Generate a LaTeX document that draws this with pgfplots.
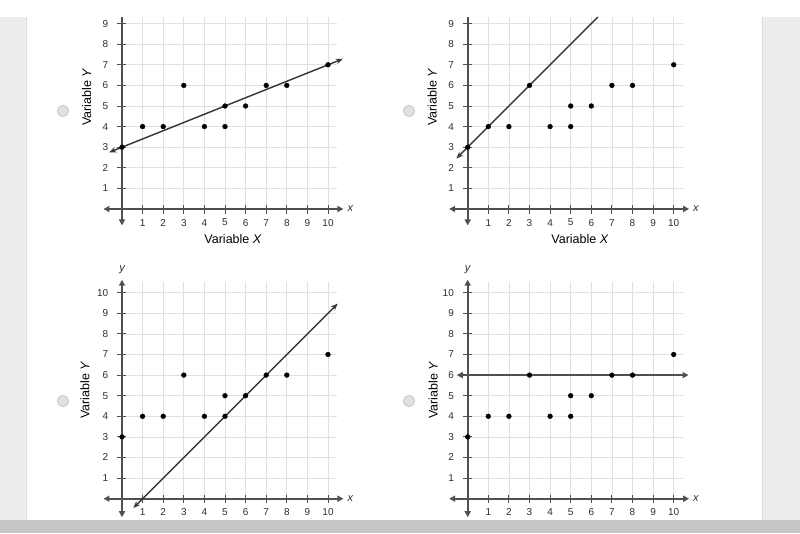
\documentclass[border=0pt]{standalone}
\usepackage{pgfplots}
\pgfplotsset{compat=1.18}
\usepackage{pgfplotstable}
\usepackage{fontspec}
\setmainfont{Liberation Sans}
\usetikzlibrary{arrows.meta}

\definecolor{gridc}{HTML}{E0E0E0}
\definecolor{axc}{HTML}{505050}
\definecolor{tickc}{HTML}{2E2E2E}
\definecolor{panelc}{HTML}{EDEDED}
\definecolor{panelb}{HTML}{DCDCDC}
\definecolor{barc}{HTML}{C6C6C6}
\definecolor{linec}{HTML}{383838}
\definecolor{radiof}{HTML}{E2E2E2}
\definecolor{radiob}{HTML}{C0C0C0}

\pgfplotstableread{
x y
0 3
1 4
2 4
3 6
4 4
5 4
5 5
6 5
7 6
8 6
10 7
}\pts

\newcommand{\tickfont}{\fontsize{10}{11}\selectfont}
\newcommand{\labfont}{\fontsize{12.5}{14}\selectfont}

\pgfplotsset{
  quad/.style={
    x=20.6pt, y=20.6pt,
    xmin=-2, xmax=11.5, ymin=-2, ymax=11.5,
    hide axis, clip=false, anchor=south west,
  },
}

% #1 grid top, #2 max y tick
\newcommand{\myframe}[2]{%
  \pgfplotsinvokeforeach{1,...,10}{\draw[gridc, line width=0.7pt] (axis cs:##1,0) -- (axis cs:##1,#1);}
  \pgfplotsinvokeforeach{1,...,#2}{\draw[gridc, line width=0.7pt] (axis cs:0,##1) -- (axis cs:10.45,##1);}
  \pgfplotsinvokeforeach{1,...,10}{%
    \draw[axc, line width=0.9pt] (axis cs:##1,-0.22) -- (axis cs:##1,0.17);
    \node[font=\tickfont, text=tickc] at (axis cs:##1,-0.66) {##1};}
  \pgfplotsinvokeforeach{1,...,#2}{%
    \draw[axc, line width=0.9pt] (axis cs:-0.25,##1) -- (axis cs:0.2,##1);
    \node[font=\tickfont, text=tickc, anchor=east] at (axis cs:-0.5,##1) {##1};}
  \draw[axc, line width=1.7pt, {Triangle[length=6pt,width=6pt]}-{Triangle[length=6pt,width=6pt]}]
    (axis cs:-0.9,0) -- (axis cs:10.75,0);
  \node[font=\fontsize{11}{12}\selectfont\itshape, text=tickc] at (axis cs:11.08,0) {x};
}

\begin{document}
\begin{tikzpicture}[x=1pt,y=1pt]
\fill[white] (0,0) rectangle (800,533);
\fill[panelc] (0,13) rectangle (27,516);
\draw[panelb, line width=0.8pt] (26.6,13) -- (26.6,516);
\fill[panelc] (762,13) rectangle (800,516);
\draw[panelb, line width=0.8pt] (762.4,13) -- (762.4,516);
\fill[barc] (0,0) rectangle (800,13);

\draw[radiob, fill=radiof, line width=0.8pt] (63,422) circle (5.5pt);
\draw[radiob, fill=radiof, line width=0.8pt] (409,422) circle (5.5pt);
\draw[radiob, fill=radiof, line width=0.8pt] (63,132) circle (5.5pt);
\draw[radiob, fill=radiof, line width=0.8pt] (409,132) circle (5.5pt);

% ---------- top left ----------
\begin{axis}[quad, at={(80.8pt,282.8pt)}]
  \myframe{9.32}{9}
  \draw[axc, line width=1.7pt, -{Triangle[length=6pt,width=6pt]}] (axis cs:0,9.32) -- (axis cs:0,-0.8);
  \addplot[linec, line width=1.4pt, {Stealth[length=7pt,width=5.5pt]}-{Stealth[length=7pt,width=5.5pt]}]
    coordinates {(-0.62,2.752) (10.72,7.288)};
  \addplot[only marks, mark=*, mark size=2.4pt, black] table {\pts};
  \node[font=\labfont] at (axis cs:5.39,-1.46) {Variable \textit{X}};
  \node[font=\labfont, rotate=90] at (axis cs:-1.72,5.44) {Variable \textit{Y}};
\end{axis}

% ---------- top right ----------
\begin{axis}[quad, at={(426.5pt,282.8pt)}]
  \myframe{9.32}{9}
  \draw[axc, line width=1.7pt, -{Triangle[length=6pt,width=6pt]}] (axis cs:0,9.32) -- (axis cs:0,-0.8);
  \addplot[linec, line width=1.4pt, {Stealth[length=7pt,width=5.5pt]}-]
    coordinates {(-0.55,2.45) (6.32,9.32)};
  \addplot[only marks, mark=*, mark size=2.4pt, black] table {\pts};
  \node[font=\labfont] at (axis cs:5.45,-1.46) {Variable \textit{X}};
  \node[font=\labfont, rotate=90] at (axis cs:-1.72,5.44) {Variable \textit{Y}};
\end{axis}

% ---------- bottom left ----------
\begin{axis}[quad, at={(80.8pt,-6.9pt)}]
  \myframe{10.5}{10}
  \draw[axc, line width=1.7pt, {Triangle[length=6pt,width=6pt]}-{Triangle[length=6pt,width=6pt]}]
    (axis cs:0,-0.9) -- (axis cs:0,10.63);
  \node[font=\fontsize{11}{12}\selectfont\itshape, text=tickc] at (axis cs:0,11.1) {y};
  \addplot[linec, line width=1.4pt, {Stealth[length=7pt,width=5.5pt]}-{Stealth[length=7pt,width=5.5pt]}]
    coordinates {(0.55,-0.45) (10.47,9.47)};
  \addplot[only marks, mark=*, mark size=2.4pt, black] table {\pts};
  \node[font=\labfont, rotate=90] at (axis cs:-1.8,5.28) {Variable \textit{Y}};
\end{axis}

% ---------- bottom right ----------
\begin{axis}[quad, at={(426.5pt,-6.9pt)}]
  \myframe{10.5}{10}
  \draw[axc, line width=1.7pt, {Triangle[length=6pt,width=6pt]}-{Triangle[length=6pt,width=6pt]}]
    (axis cs:0,-0.9) -- (axis cs:0,10.63);
  \node[font=\fontsize{11}{12}\selectfont\itshape, text=tickc] at (axis cs:0,11.1) {y};
  \addplot[axc, line width=1.7pt, {Triangle[length=6pt,width=6pt]}-{Triangle[length=6pt,width=6pt]}]
    coordinates {(-0.53,6) (10.72,6)};
  \addplot[only marks, mark=*, mark size=2.4pt, black] table {\pts};
  \node[font=\labfont, rotate=90] at (axis cs:-1.68,5.28) {Variable \textit{Y}};
\end{axis}

\pgfresetboundingbox
\useasboundingbox (0,0) rectangle (800,533);
\end{tikzpicture}
\end{document}
